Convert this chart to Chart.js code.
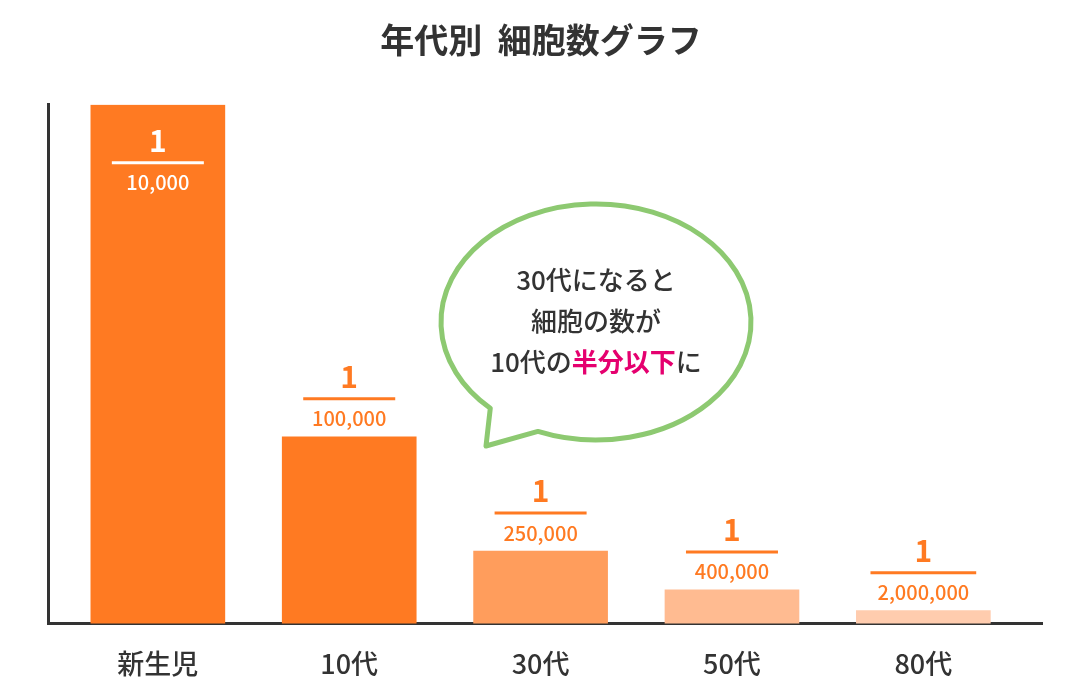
<!DOCTYPE html>
<html><head><meta charset="utf-8">
<script src="https://cdn.jsdelivr.net/npm/chart.js@4"></script>
<style>body{margin:0;background:#fff}#wrap{width:1080px;height:700px}</style>
</head><body><div id="wrap"><canvas id="c"></canvas></div>
<script>
const categories = ['新生児', '10代', '30代', '50代', '80代'];
const heights = [100, 36, 14, 6.5, 2.5];
const denominators = ['10,000', '100,000', '250,000', '400,000', '2,000,000'];
const barColors = ['#FF7A22', '#FF7A22', '#FF9D5C', '#FFBB91', '#FFCCAE'];
const bubbleLines = [['30代になると'], ['細胞の数が'], ['10代の', '半分以下', 'に']];

const FONT = '"Noto Sans CJK JP", "Noto Sans", sans-serif';

const overlay = {
    id: 'overlay',
    afterDatasetsDraw(chart) {
        const { ctx } = chart;
        const meta = chart.getDatasetMeta(0);
        ctx.save();
        // fractions
        meta.data.forEach((bar, i) => {
            const inside = i === 0;
            const col = inside ? '#fff' : '#FF7A22';
            const base = inside ? bar.y + 78 : bar.y - 18;
            ctx.fillStyle = col;
            ctx.strokeStyle = col;
            ctx.textAlign = 'center';
            ctx.textBaseline = 'middle';
            ctx.font = '500 20px ' + FONT;
            const w = ctx.measureText(denominators[i]).width + 14;
            ctx.fillText(denominators[i], bar.x, base);
            ctx.lineWidth = 3;
            ctx.beginPath();
            ctx.moveTo(bar.x - Math.max(w, 92) / 2, base - 20);
            ctx.lineTo(bar.x + Math.max(w, 92) / 2, base - 20);
            ctx.stroke();
            ctx.font = 'bold 30px ' + FONT;
            ctx.fillText('1', bar.x, base - 42);
        });
        // speech bubble
        const cx = 596, cy = 322, rx = 155, ry = 118;
        const deg = Math.PI / 180;
        ctx.lineWidth = 5;
        ctx.strokeStyle = '#8DC971';
        ctx.fillStyle = '#fff';
        ctx.lineJoin = 'round';
        ctx.beginPath();
        ctx.ellipse(cx, cy, rx, ry, 0, 133 * deg, 112 * deg, false);
        ctx.lineTo(486, 446);
        ctx.closePath();
        ctx.fill();
        ctx.stroke();
        ctx.textBaseline = 'middle';
        bubbleLines.forEach((parts, li) => {
            let total = 0;
            parts.forEach((p, k) => {
                ctx.font = (k === 1 ? 'bold ' : '500 ') + '26px ' + FONT;
                total += ctx.measureText(p).width;
            });
            let x = cx - total / 2;
            ctx.textAlign = 'left';
            parts.forEach((p, k) => {
                ctx.font = (k === 1 ? 'bold ' : '500 ') + '26px ' + FONT;
                ctx.fillStyle = k === 1 ? '#E5006F' : '#333';
                ctx.fillText(p, x, 280 + li * 41);
                x += ctx.measureText(p).width;
            });
        });
        ctx.restore();
    }
};

new Chart(document.getElementById('c'), {
    type: 'bar',
    data: {
        datasets: [{
            data: heights.map((h, i) => ({ x: i, y: h })),
            backgroundColor: barColors,
            barThickness: 134
        }]
    },
    options: {
        responsive: true,
        maintainAspectRatio: false,
        animation: false,
        devicePixelRatio: 1,
        layout: { padding: { left: 40, right: 38, top: 0, bottom: 4 } },
        plugins: {
            legend: { display: false },
            tooltip: { enabled: false },
            title: {
                display: true,
                text: '年代別  細胞数グラフ',
                color: '#333',
                font: { family: FONT, size: 34, weight: 'bold' },
                padding: { top: 20, bottom: 44 }
            }
        },
        scales: {
            x: {
                type: 'linear',
                offset: false,
                min: -0.574, max: 4.62,
                afterBuildTicks: (axis) => { axis.ticks = categories.map((c, i) => ({ value: i })); },
                ticks: {
                    callback: (v) => categories[v],
                    color: '#333',
                    font: { family: FONT, size: 27, weight: '500' },
                    padding: 16,
                    maxRotation: 0
                },
                grid: { display: false },
                border: { color: '#333', width: 3 }
            },
            y: {
                min: 0, max: 100,
                ticks: { display: false },
                grid: { display: false },
                border: { color: '#333', width: 3 }
            }
        }
    },
    plugins: [overlay]
});
</script></body></html>
